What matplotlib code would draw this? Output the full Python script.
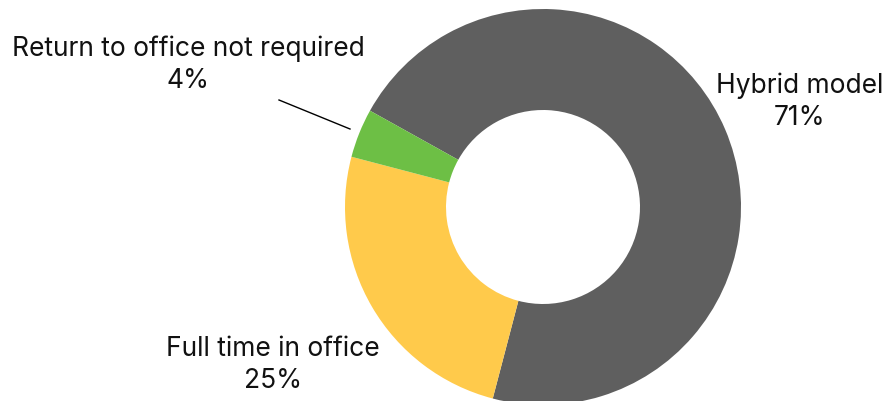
import matplotlib
matplotlib.use("Agg")
import matplotlib.pyplot as plt

labels = ["Hybrid model", "Full time in office", "Return to office not required"]
shares = [71, 25, 4]
colors = ["#5f5f5f", "#ffca4b", "#6dbf45"]

# label anchor points in pixel space (x, y from top)
label_pos = [(800, 102), (273, 365), (188, 65)]

plt.rcParams['font.family'] = ['Inter', 'DejaVu Sans']

fig = plt.figure(figsize=(8.9, 4.01), dpi=100)
ax = fig.add_axes([0, 0, 1, 1])

cx, cy, r = 543, 401 - 207, 198
ax.pie(shares, colors=colors, startangle=150.9, counterclock=False,
       center=(cx, cy), radius=r, frame=True,
       wedgeprops=dict(width=101, linewidth=0))
ax.set_xlim(0, 890)
ax.set_ylim(0, 401)
ax.set_aspect('equal')
ax.axis('off')

for lab, val, (x, y) in zip(labels, shares, label_pos):
    ax.text(x, 401 - y, f"{lab}\n{val}%", ha='center', va='center',
            fontsize=19, color='#111111', linespacing=1.3)

# leader line for the small slice
ax.plot([279, 350], [401 - 100, 401 - 129], color='black', lw=1)

fig.savefig("out.png", dpi=100)
